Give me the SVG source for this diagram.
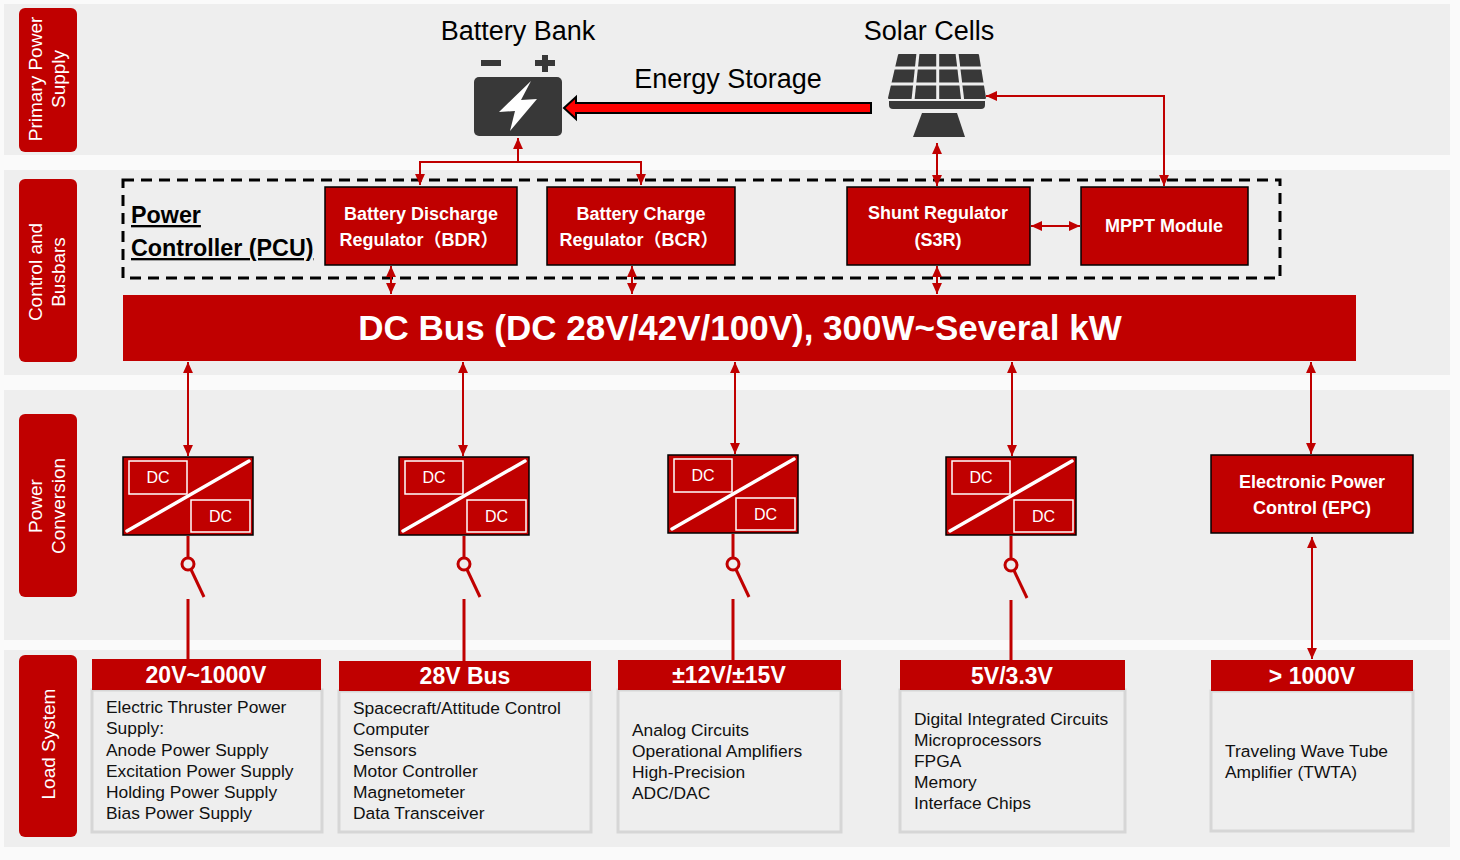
<svg xmlns="http://www.w3.org/2000/svg" width="1460" height="860" viewBox="0 0 1460 860">
<defs>
<style>
.band{fill:#eeeeee}
.side{fill:#c00000}
.sidet{font-family:'Liberation Sans',Arial,sans-serif;font-size:19px;fill:#ffffff;text-anchor:middle}
.head{font-family:'Liberation Sans',Arial,sans-serif;font-size:27px;fill:#000000;text-anchor:middle}
.box{fill:#c00000;stroke:#000000;stroke-width:1.5}
.boxt{font-family:'Liberation Sans','Noto Sans CJK SC',sans-serif;font-size:18px;font-weight:bold;fill:#ffffff;text-anchor:middle}
.pcu{font-family:'Liberation Sans',Arial,sans-serif;font-size:23.3px;font-weight:bold;fill:#000000;text-decoration:underline}
.conn{stroke:#c00000;stroke-width:2;fill:none}
.wire{stroke:#c00000;stroke-width:3;fill:none}
.dcr{fill:none;stroke:#ffffff;stroke-width:1.5}
.dct{font-family:'Liberation Sans',Arial,sans-serif;font-size:16px;fill:#ffffff;text-anchor:middle}
.lhead{fill:#c00000}
.lheadt{font-family:'Liberation Sans',Arial,sans-serif;font-size:23px;font-weight:bold;fill:#ffffff;text-anchor:middle}
.lbody{fill:#eeeeee;stroke:#d6d6d6;stroke-width:3}
.lt{font-family:'Liberation Sans',Arial,sans-serif;font-size:17.4px;fill:#111111}
.dark{fill:#383838}
</style>
<marker id="ah" viewBox="0 0 10 9" refX="10" refY="4.5" markerWidth="11" markerHeight="10" markerUnits="userSpaceOnUse" orient="auto-start-reverse">
<path d="M0,0 L10,4.5 L0,9 Z" fill="#c00000"/>
</marker>
</defs>

<rect x="0" y="0" width="1460" height="860" fill="#fafafa"/>
<rect class="band" x="4" y="4" width="1446" height="151"/>
<rect class="band" x="4" y="170" width="1446" height="205"/>
<rect class="band" x="4" y="390" width="1446" height="250"/>
<rect class="band" x="4" y="650" width="1446" height="197"/>

<g id="label-primary">
<rect class="side" x="19" y="8" width="58" height="144" rx="6"/>
<text class="sidet" transform="translate(48,79) rotate(-90)"><tspan x="0" y="-6">Primary Power</tspan><tspan x="0" y="16.5">Supply</tspan></text>
</g>
<g id="label-control">
<rect class="side" x="19" y="179" width="58" height="183" rx="6"/>
<text class="sidet" transform="translate(48,272) rotate(-90)"><tspan x="0" y="-6">Control and</tspan><tspan x="0" y="16.5">Busbars</tspan></text>
</g>
<g id="label-conversion">
<rect class="side" x="19" y="414" width="58" height="183" rx="6"/>
<text class="sidet" transform="translate(48,506) rotate(-90)"><tspan x="0" y="-6">Power</tspan><tspan x="0" y="16.5">Conversion</tspan></text>
</g>
<g id="label-load">
<rect class="side" x="19" y="655" width="58" height="182" rx="6"/>
<text class="sidet" transform="translate(48,744) rotate(-90)"><tspan x="0" y="6.5">Load System</tspan></text>
</g>

<g id="battery-bank">
<text class="head" x="518" y="40">Battery Bank</text>
<rect class="dark" x="481" y="60" width="20" height="6"/>
<rect class="dark" x="535" y="60" width="20" height="6"/>
<rect class="dark" x="542" y="55" width="6" height="17"/>
<rect class="dark" x="474" y="77" width="88" height="59" rx="5"/>
<path d="M531,81 L499,112 L515,111 L510,131 L537,99 L521,100 Z" fill="#ffffff"/>
</g>

<g id="solar-cells">
<text class="head" x="929" y="40">Solar Cells</text>
<path class="dark" d="M899,55 L978,55 L985,98 L889,98 Z" stroke="#383838" stroke-width="2" stroke-linejoin="round"/>
<g stroke="#eeeeee" stroke-width="3">
<line x1="885" y1="68" x2="990" y2="68"/>
<line x1="885" y1="84" x2="990" y2="84"/>
<line x1="918" y1="53" x2="913" y2="100"/>
<line x1="937.7" y1="53" x2="937.7" y2="100"/>
<line x1="957" y1="53" x2="962.7" y2="100"/>
</g>
<path class="dark" d="M889,101 L985,101 L985,105 Q985,109 981,109 L893,109 Q889,109 889,105 Z"/>
<path class="dark" d="M922,113 L957,113 L965,137 L913,137 Z"/>
</g>

<g id="energy-storage-label">
<text class="head" x="728" y="88">Energy Storage</text>
</g>

<g id="pcu">
<rect x="123" y="180" width="1157" height="98" fill="none" stroke="#000000" stroke-width="3" stroke-dasharray="11,7"/>
<text class="pcu" x="131" y="223">Power</text>
<text class="pcu" x="131" y="256">Controller (PCU)</text>
</g>

<g id="bdr">
<rect class="box" x="325" y="187" width="192" height="78"/>
<text class="boxt" x="421" y="220">Battery Discharge</text>
<text class="boxt" x="419" y="246">Regulator（BDR）</text>
</g>
<g id="bcr">
<rect class="box" x="547" y="187" width="188" height="78"/>
<text class="boxt" x="641" y="220">Battery Charge</text>
<text class="boxt" x="639" y="246">Regulator（BCR）</text>
</g>
<g id="s3r">
<rect class="box" x="847" y="187" width="183" height="78"/>
<text class="boxt" x="938" y="219">Shunt Regulator</text>
<text class="boxt" x="938" y="246">(S3R)</text>
</g>
<g id="mppt">
<rect class="box" x="1081" y="187" width="167" height="78"/>
<text class="boxt" x="1164" y="232">MPPT Module</text>
</g>

<g id="dc-bus">
<rect x="123" y="295" width="1233" height="66" fill="#c00000"/>
<text x="740" y="340" font-family="'Liberation Sans',Arial,sans-serif" font-size="35" font-weight="bold" fill="#ffffff" text-anchor="middle">DC Bus (DC 28V/42V/100V), 300W~Several kW</text>
</g>

<g id="conv1" transform="translate(123,457)">
<rect class="box" x="0" y="0" width="130" height="78"/>
<rect class="dcr" x="6" y="4" width="58" height="33"/>
<rect class="dcr" x="68" y="43" width="59" height="32"/>
<line x1="4" y1="74" x2="126" y2="4" stroke="#ffffff" stroke-width="3.5" stroke-linecap="round"/>
<text class="dct" x="35" y="26">DC</text>
<text class="dct" x="97.5" y="65">DC</text>
</g>
<g id="conv2" transform="translate(399,457)">
<rect class="box" x="0" y="0" width="130" height="78"/>
<rect class="dcr" x="6" y="4" width="58" height="33"/>
<rect class="dcr" x="68" y="43" width="59" height="32"/>
<line x1="4" y1="74" x2="126" y2="4" stroke="#ffffff" stroke-width="3.5" stroke-linecap="round"/>
<text class="dct" x="35" y="26">DC</text>
<text class="dct" x="97.5" y="65">DC</text>
</g>
<g id="conv3" transform="translate(668,455)">
<rect class="box" x="0" y="0" width="130" height="78"/>
<rect class="dcr" x="6" y="4" width="58" height="33"/>
<rect class="dcr" x="68" y="43" width="59" height="32"/>
<line x1="4" y1="74" x2="126" y2="4" stroke="#ffffff" stroke-width="3.5" stroke-linecap="round"/>
<text class="dct" x="35" y="26">DC</text>
<text class="dct" x="97.5" y="65">DC</text>
</g>
<g id="conv4" transform="translate(946,457)">
<rect class="box" x="0" y="0" width="130" height="78"/>
<rect class="dcr" x="6" y="4" width="58" height="33"/>
<rect class="dcr" x="68" y="43" width="59" height="32"/>
<line x1="4" y1="74" x2="126" y2="4" stroke="#ffffff" stroke-width="3.5" stroke-linecap="round"/>
<text class="dct" x="35" y="26">DC</text>
<text class="dct" x="97.5" y="65">DC</text>
</g>
<g id="epc">
<rect class="box" x="1211" y="455" width="202" height="78"/>
<text class="boxt" x="1312" y="488">Electronic Power</text>
<text class="boxt" x="1312" y="514">Control (EPC)</text>
</g>

<g id="load1">
<rect class="lbody" x="92" y="690" width="230" height="142"/>
<rect class="lhead" x="92" y="659" width="229" height="31"/>
<text class="lheadt" x="206" y="683">20V~1000V</text>
<text class="lt" x="106" y="713" font-size="17">Electric Thruster Power</text>
<text class="lt" x="106" y="734" font-size="17">Supply:</text>
<text class="lt" x="106" y="756" font-size="17">Anode Power Supply</text>
<text class="lt" x="106" y="777" font-size="17">Excitation Power Supply</text>
<text class="lt" x="106" y="798" font-size="17">Holding Power Supply</text>
<text class="lt" x="106" y="819" font-size="17">Bias Power Supply</text>
</g>
<g id="load2">
<rect class="lbody" x="339" y="691" width="252" height="141"/>
<rect class="lhead" x="339" y="661" width="252" height="30"/>
<text class="lheadt" x="465" y="684">28V Bus</text>
<text class="lt" x="353" y="714">Spacecraft/Attitude Control</text>
<text class="lt" x="353" y="735">Computer</text>
<text class="lt" x="353" y="756">Sensors</text>
<text class="lt" x="353" y="777">Motor Controller</text>
<text class="lt" x="353" y="798">Magnetometer</text>
<text class="lt" x="353" y="819">Data Transceiver</text>
</g>
<g id="load3">
<rect class="lbody" x="618" y="690" width="223" height="142"/>
<rect class="lhead" x="618" y="660" width="223" height="30"/>
<text class="lheadt" x="729" y="683">±12V/±15V</text>
<text class="lt" x="632" y="736">Analog Circuits</text>
<text class="lt" x="632" y="757">Operational Amplifiers</text>
<text class="lt" x="632" y="778">High-Precision</text>
<text class="lt" x="632" y="799">ADC/DAC</text>
</g>
<g id="load4">
<rect class="lbody" x="900" y="690" width="225" height="142"/>
<rect class="lhead" x="900" y="660" width="225" height="30"/>
<text class="lheadt" x="1012" y="684">5V/3.3V</text>
<text class="lt" x="914" y="725">Digital Integrated Circuits</text>
<text class="lt" x="914" y="746">Microprocessors</text>
<text class="lt" x="914" y="767">FPGA</text>
<text class="lt" x="914" y="788">Memory</text>
<text class="lt" x="914" y="809">Interface Chips</text>
</g>
<g id="load5">
<rect class="lbody" x="1211" y="691" width="202" height="140"/>
<rect class="lhead" x="1211" y="660" width="202" height="31"/>
<text class="lheadt" x="1312" y="684">&gt; 1000V</text>
<text class="lt" x="1225" y="757">Traveling Wave Tube</text>
<text class="lt" x="1225" y="778">Amplifier (TWTA)</text>
</g>

<g id="connectors">
<polygon points="564,108 576,97 576,103 871,103 871,113 576,113 576,119" fill="#ff0000" stroke="#000000" stroke-width="2" stroke-linejoin="miter"/>
<line class="conn" x1="518" y1="162" x2="518" y2="138" marker-end="url(#ah)"/>
<polyline class="conn" points="420,185 420,162 641,162 641,185" marker-start="url(#ah)" marker-end="url(#ah)"/>
<line class="conn" x1="937" y1="143" x2="937" y2="186" marker-start="url(#ah)" marker-end="url(#ah)"/>
<polyline class="conn" points="986,96 1164,96 1164,186" marker-start="url(#ah)" marker-end="url(#ah)"/>
<line class="conn" x1="1031" y1="226" x2="1080" y2="226" marker-start="url(#ah)" marker-end="url(#ah)"/>
<line class="conn" x1="391" y1="266" x2="391" y2="294" marker-start="url(#ah)" marker-end="url(#ah)"/>
<line class="conn" x1="632" y1="266" x2="632" y2="294" marker-start="url(#ah)" marker-end="url(#ah)"/>
<line class="conn" x1="937" y1="266" x2="937" y2="294" marker-start="url(#ah)" marker-end="url(#ah)"/>
<line class="conn" x1="188" y1="362" x2="188" y2="456" marker-start="url(#ah)" marker-end="url(#ah)"/>
<line class="conn" x1="463" y1="362" x2="463" y2="456" marker-start="url(#ah)" marker-end="url(#ah)"/>
<line class="conn" x1="735" y1="362" x2="735" y2="454" marker-start="url(#ah)" marker-end="url(#ah)"/>
<line class="conn" x1="1012" y1="362" x2="1012" y2="456" marker-start="url(#ah)" marker-end="url(#ah)"/>
<line class="conn" x1="1311" y1="362" x2="1311" y2="454" marker-start="url(#ah)" marker-end="url(#ah)"/>
<line class="conn" x1="1312" y1="537" x2="1312" y2="659" marker-start="url(#ah)" marker-end="url(#ah)"/>
<g id="switch1">
<line class="wire" x1="188" y1="536" x2="188" y2="558"/>
<circle class="wire" cx="188" cy="564" r="6"/>
<line class="wire" x1="191" y1="569.5" x2="204" y2="597" stroke-width="3.5"/>
<line class="wire" x1="188" y1="599" x2="188" y2="659"/>
</g>
<g id="switch2">
<line class="wire" x1="464" y1="536" x2="464" y2="558"/>
<circle class="wire" cx="464" cy="564" r="6"/>
<line class="wire" x1="467" y1="569.5" x2="480" y2="597" stroke-width="3.5"/>
<line class="wire" x1="464" y1="599" x2="464" y2="661"/>
</g>
<g id="switch3">
<line class="wire" x1="733" y1="534" x2="733" y2="558"/>
<circle class="wire" cx="733" cy="564" r="6"/>
<line class="wire" x1="736" y1="569.5" x2="749" y2="597" stroke-width="3.5"/>
<line class="wire" x1="733" y1="599" x2="733" y2="660"/>
</g>
<g id="switch4">
<line class="wire" x1="1011" y1="536" x2="1011" y2="559"/>
<circle class="wire" cx="1011" cy="565" r="6"/>
<line class="wire" x1="1014" y1="570.5" x2="1027" y2="598" stroke-width="3.5"/>
<line class="wire" x1="1011" y1="600" x2="1011" y2="660"/>
</g>
</g>
</svg>
